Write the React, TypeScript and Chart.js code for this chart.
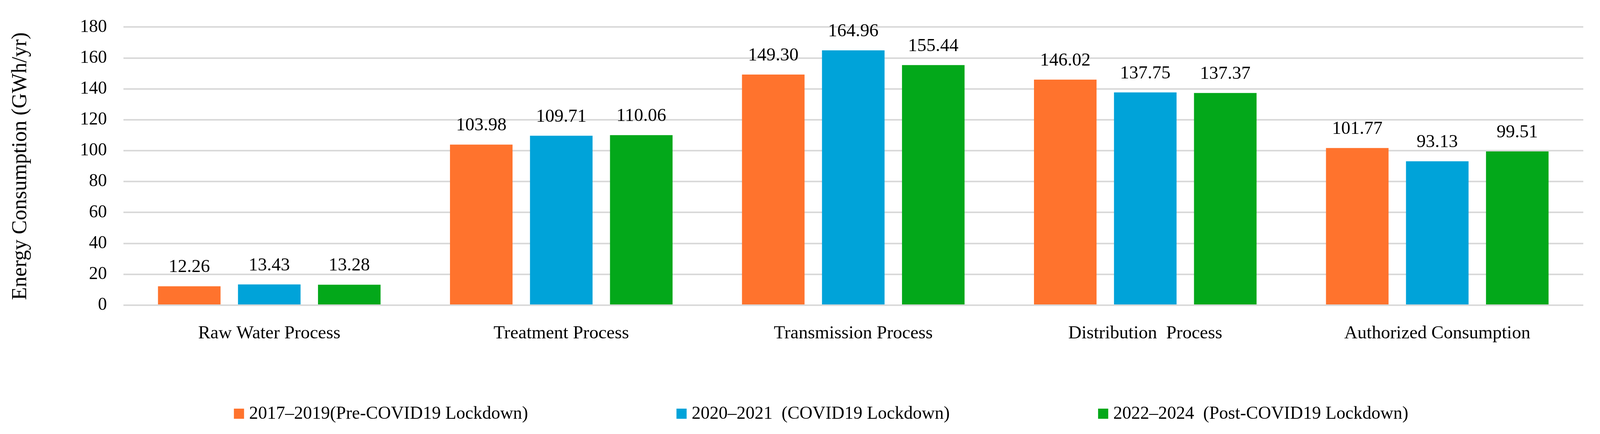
import React, { useEffect, useRef } from "react";
import { Chart, registerables } from "chart.js";

Chart.register(...registerables);

const categories = [
  "Raw Water Process",
  "Treatment Process",
  "Transmission Process",
  "Distribution  Process",
  "Authorized Consumption",
];
const seriesLabels = [
  "2017–2019(Pre-COVID19 Lockdown)",
  "2020–2021  (COVID19 Lockdown)",
  "2022–2024  (Post-COVID19 Lockdown)",
];
const preCovid = [12.26, 103.98, 149.3, 146.02, 101.77];
const covidLockdown = [13.43, 109.71, 164.96, 137.75, 93.13];
const postCovid = [13.28, 110.06, 155.44, 137.37, 99.51];
const seriesColors = ["#FF732D", "#00A3D9", "#03A81A"];
const yMin = 0;
const yMax = 180;
const yStep = 20;
const yTitle = "Energy Consumption (GWh/yr)";

const FONT = '"Liberation Serif", "Times New Roman", serif';
const REF_W = 4400;

const valueLabels = {
  id: "valueLabels",
  afterDatasetsDraw(chart: any) {
    const ctx = chart.ctx;
    ctx.save();
    ctx.font = `47px ${FONT}`;
    ctx.fillStyle = "#000";
    ctx.textAlign = "center";
    ctx.textBaseline = "alphabetic";
    chart.data.datasets.forEach((ds: any, i: number) => {
      const meta = chart.getDatasetMeta(i);
      meta.data.forEach((bar: any, j: number) => {
        const v = ds.data[j] as number;
        ctx.fillText(v.toFixed(2), bar.x, bar.y - 36);
      });
    });
    ctx.restore();
  },
};

const customLegend = {
  id: "customLegend",
  afterDraw(chart: any) {
    const ctx = chart.ctx;
    const k = chart.width / REF_W;
    ctx.save();
    ctx.font = `46px ${FONT}`;
    const box = 26;
    const gapBoxText = 13;
    const itemGap = 408 * k;
    const items = chart.data.datasets.map((ds: any) => ({
      text: ds.label as string,
      color: ds.backgroundColor as string,
      w: ctx.measureText(ds.label).width as number,
    }));
    const total =
      items.reduce((s: number, it: any) => s + box + gapBoxText + it.w, 0) +
      itemGap * (items.length - 1);
    let x = chart.width / 2 + 58 * k - total / 2;
    const baseline = chart.height - 39;
    ctx.textAlign = "left";
    ctx.textBaseline = "alphabetic";
    items.forEach((it: any) => {
      ctx.fillStyle = it.color;
      ctx.fillRect(x, baseline - box, box, box);
      ctx.fillStyle = "#000";
      ctx.fillText(it.text, x + box + gapBoxText, baseline);
      x += box + gapBoxText + it.w + itemGap;
    });
    ctx.restore();
  },
};

export default function App() {
  const canvasRef = useRef<HTMLCanvasElement | null>(null);

  useEffect(() => {
    if (!canvasRef.current) return;
    const seriesData = [preCovid, covidLockdown, postCovid];
    const chart = new Chart(canvasRef.current, {
      type: "bar",
      data: {
        labels: categories,
        datasets: seriesLabels.map((label, i) => ({
          label,
          data: seriesData[i],
          backgroundColor: seriesColors[i],
          borderWidth: 0,
          categoryPercentage: 0.822,
          barPercentage: 0.782,
        })),
      },
      options: {
        responsive: true,
        maintainAspectRatio: false,
        animation: false,
        color: "#000",
        layout: {
          padding: (c: any) => ({
            top: 52,
            right: (46 * c.chart.width) / REF_W,
            bottom: 230,
            left: 0,
          }),
        },
        plugins: {
          legend: { display: false },
          tooltip: { enabled: false },
        },
        scales: {
          x: {
            grid: { display: false },
            border: { display: false },
            ticks: {
              color: "#000",
              font: { family: FONT, size: 47 },
              padding: 36,
              maxRotation: 0,
              autoSkip: false,
            },
            afterFit(scale: any) {
              scale.height = 100;
            },
          },
          y: {
            min: yMin,
            max: yMax,
            grid: { color: "#D9D9D9", lineWidth: 4, drawTicks: false },
            border: { display: false },
            ticks: {
              stepSize: yStep,
              color: "#000",
              font: { family: FONT, size: 46 },
              padding: (c: any) => (45 * c.chart.width) / REF_W,
            },
            title: {
              display: true,
              text: yTitle,
              color: "#000",
              font: { family: FONT, size: 54 },
              padding: { top: 20, bottom: 0 },
            },
            afterFit(scale: any) {
              scale.width = (339 * scale.chart.width) / REF_W;
            },
          },
        },
      },
      plugins: [valueLabels, customLegend],
    });
    return () => chart.destroy();
  }, []);

  return (
    <div style={{ position: "fixed", left: 0, top: 0, width: "100vw", height: "100vh", background: "#fff" }}>
      <canvas ref={canvasRef} style={{ display: "block" }} />
    </div>
  );
}
